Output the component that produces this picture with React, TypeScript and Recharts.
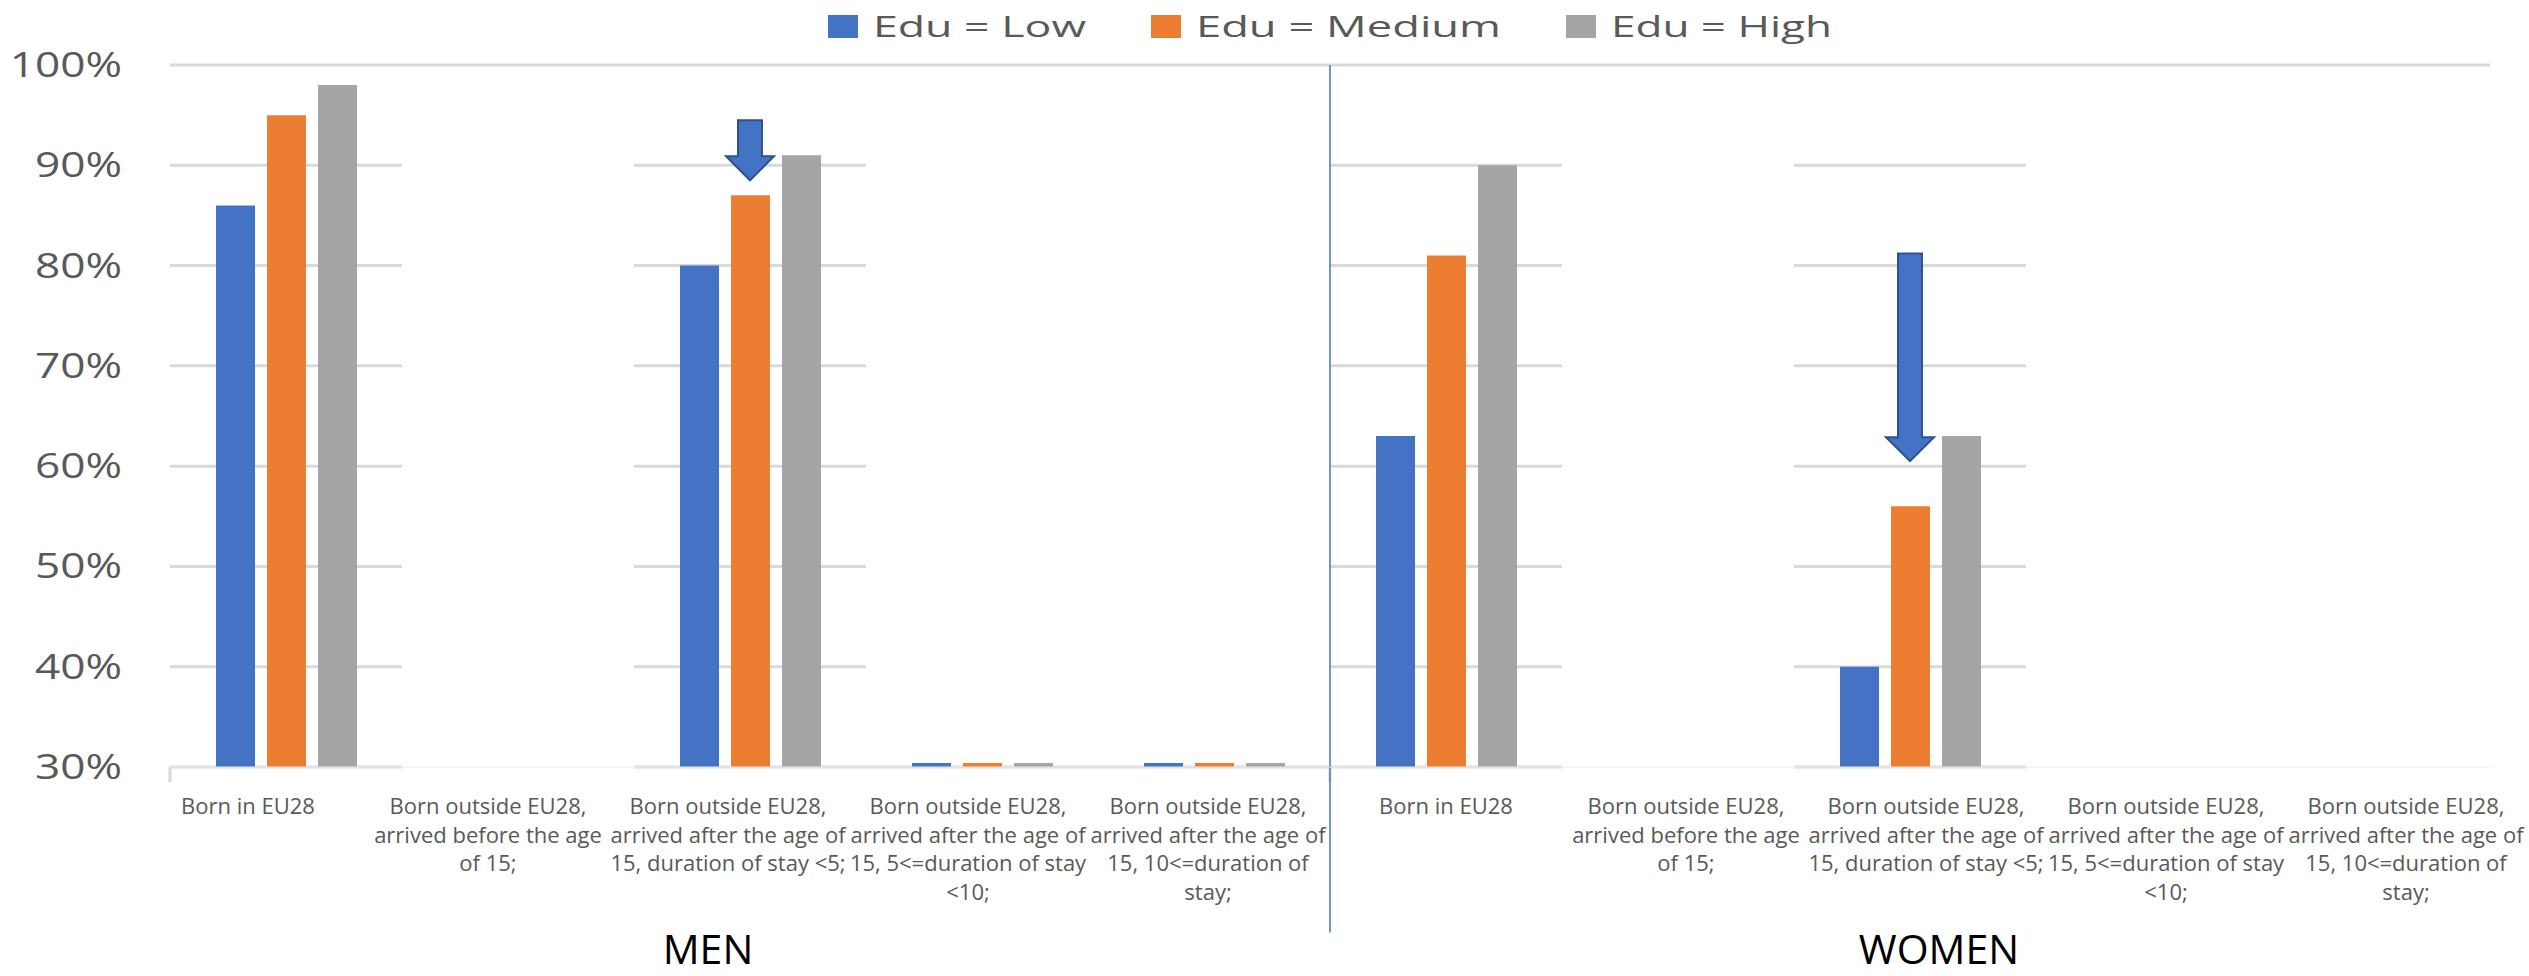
import { BarChart, Bar, XAxis, YAxis, CartesianGrid, Legend, ReferenceArea, ReferenceLine } from "recharts";

// categories: 5 for men, then the same 5 for women
const categoryKeys = ["m1", "m2", "m3", "m4", "m5", "w1", "w2", "w3", "w4", "w5"];
const categoryLines: string[][] = [
  ["Born in EU28"],
  ["Born outside EU28,", "arrived before the age", "of 15;"],
  ["Born outside EU28,", "arrived after the age of", "15, duration of stay <5;"],
  ["Born outside EU28,", "arrived after the age of", "15, 5<=duration of stay", "<10;"],
  ["Born outside EU28,", "arrived after the age of", "15, 10<=duration of", "stay;"],
  ["Born in EU28"],
  ["Born outside EU28,", "arrived before the age", "of 15;"],
  ["Born outside EU28,", "arrived after the age of", "15, duration of stay <5;"],
  ["Born outside EU28,", "arrived after the age of", "15, 5<=duration of stay", "<10;"],
  ["Born outside EU28,", "arrived after the age of", "15, 10<=duration of", "stay;"],
];

const eduLow = [86, null, 80, 30.4, 30.4, 63, null, 40, null, null];
const eduMedium = [95, null, 87, 30.4, 30.4, 81, null, 56, null, null];
const eduHigh = [98, null, 91, 30.4, 30.4, 90, null, 63, null, null];

const yTicks = [30, 40, 50, 60, 70, 80, 90, 100];
const groupTitles = ["MEN", "WOMEN"];
const seriesNames = ["Edu = Low", "Edu = Medium", "Edu = High"];
const seriesColors = ["#4472C4", "#ED7D31", "#A5A5A5"];

const data = categoryKeys.map((key, i) => ({
  key,
  low: eduLow[i],
  medium: eduMedium[i],
  high: eduHigh[i],
}));

const FONT = "'Open Sans', 'DejaVu Sans', sans-serif";
const LEGEND_TEXT_WIDTHS = [213, 305, 221];

function CategoryTick(props: any) {
  const { x, y, payload } = props;
  const i = payload.index;
  const lines = categoryLines[i] ?? [];
  // labels in the source are spread a little wider than the bars
  const nudge = (i % 5) * 8 - (i < 5 ? 38 : 0);
  return (
    <g transform={`translate(${x + nudge},${y})`}>
      <text textAnchor="middle" fontFamily={FONT} fontSize={22} fill="#595959">
        {lines.map((l, k) => (
          <tspan key={k} x={0} y={47 + k * 28.5}>
            {l}
          </tspan>
        ))}
      </text>
    </g>
  );
}

function PercentTick(props: any) {
  const { x, y, payload } = props;
  return (
    <text
      x={0}
      y={12}
      transform={`translate(${x},${y}) scale(1.3,1)`}
      textAnchor="end"
      fontFamily={FONT}
      fontSize={34}
      fill="#595959"
    >
      {payload.value}%
    </text>
  );
}

function EduLegend() {
  const sq = 30;
  const gapIn = 15;
  const gapOut = 65;
  const total = seriesNames.reduce(
    (s, _, i) => s + sq + gapIn + LEGEND_TEXT_WIDTHS[i] + (i > 0 ? gapOut : 0),
    0
  );
  let cursor = 1330 - total / 2;
  return (
    <svg width={2529} height={50}>
      {seriesNames.map((name, i) => {
        const x0 = cursor;
        cursor += sq + gapIn + LEGEND_TEXT_WIDTHS[i] + gapOut;
        return (
          <g key={name}>
            <rect x={x0} y={15} width={sq} height={23} fill={seriesColors[i]} />
            <text
              x={x0 + sq + gapIn}
              y={37}
              fontFamily={FONT}
              fontSize={30}
              fill="#595959"
              textLength={LEGEND_TEXT_WIDTHS[i]}
              lengthAdjust="spacingAndGlyphs"
            >
              {name}
            </text>
          </g>
        );
      })}
    </svg>
  );
}

function DownArrow(props: any) {
  const { x1, y1, y2 } = props;
  const shaft = 12;
  const head = 24;
  const headLen = 24;
  const d = `M${x1 - shaft},${y1} L${x1 + shaft},${y1} L${x1 + shaft},${y2 - headLen} L${x1 + head},${
    y2 - headLen
  } L${x1},${y2} L${x1 - head},${y2 - headLen} L${x1 - shaft},${y2 - headLen} Z`;
  return <path d={d} fill="#4472C4" stroke="#2F528F" strokeWidth={2} />;
}

export default function App() {
  return (
    <div style={{ position: "absolute", left: 0, top: 0, width: 2529, height: 976, background: "#fff", overflow: "hidden" }}>
      <BarChart
        width={2529}
        height={976}
        data={data}
        margin={{ top: 65, right: 39, bottom: 0, left: 0 }}
        barGap={12}
        barSize={39}
      >
        <CartesianGrid vertical={false} stroke="#d9d9d9" strokeWidth={3} />
        <XAxis
          dataKey="key"
          height={209}
          interval={0}
          tickSize={0}
          tickLine={false}
          tickMargin={0}
          axisLine={{ stroke: "#ececec" }}
          tick={<CategoryTick />}
        />
        <YAxis
          width={170}
          domain={[30, 100]}
          ticks={yTicks}
          allowDataOverflow
          axisLine={false}
          tickLine={false}
          tickSize={0}
          tickMargin={48}
          tick={<PercentTick />}
        />
        <Legend
          verticalAlign="middle"
          align="center"
          layout="horizontal"
          wrapperStyle={{ top: 0, left: 0, width: 2529, height: 50 }}
          content={<EduLegend />}
        />
        {/* gridlines are broken in the source where a panel is empty */}
        <ReferenceArea x1="m2" x2="m2" y1={29.7} y2={99.6} fill="#ffffff" fillOpacity={1} stroke="none" ifOverflow="visible" />
        <ReferenceArea x1="m4" x2="m5" y1={30.6} y2={99.6} fill="#ffffff" fillOpacity={1} stroke="none" ifOverflow="visible" />
        <ReferenceArea x1="w2" x2="w2" y1={29.7} y2={99.6} fill="#ffffff" fillOpacity={1} stroke="none" ifOverflow="visible" />
        <ReferenceArea x1="w4" x2="w5" y1={29.7} y2={99.6} fill="#ffffff" fillOpacity={1} stroke="none" ifOverflow="visible" />
        <Bar dataKey="low" name={seriesNames[0]} fill={seriesColors[0]} isAnimationActive={false} />
        <Bar dataKey="medium" name={seriesNames[1]} fill={seriesColors[1]} isAnimationActive={false} />
        <Bar dataKey="high" name={seriesNames[2]} fill={seriesColors[2]} isAnimationActive={false} />
        {/* small axis ticks at the start of each panel */}
        <ReferenceLine
          segment={[{ x: "m1", y: 30 }, { x: "m1", y: 28.5 }]}
          position="start"
          stroke="#d9d9d9"
          strokeWidth={3}
          ifOverflow="visible"
        />
        <ReferenceLine
          segment={[{ x: "w1", y: 30 }, { x: "w1", y: 28.5 }]}
          position="start"
          stroke="#d9d9d9"
          strokeWidth={3}
          ifOverflow="visible"
        />
        <ReferenceLine
          segment={[{ x: "w1", y: 100 }, { x: "w1", y: 13.5 }]}
          position="start"
          stroke="#4472C4"
          strokeWidth={1.5}
          ifOverflow="visible"
        />
        <ReferenceLine
          segment={[{ x: "m3", y: 94.5 }, { x: "m3", y: 88.5 }]}
          ifOverflow="visible"
          shape={<DownArrow />}
        />
        <ReferenceLine
          segment={[{ x: "w3", y: 81.2 }, { x: "w3", y: 60.5 }]}
          ifOverflow="visible"
          shape={<DownArrow />}
        />
      </BarChart>
      <svg width={2529} height={976} style={{ position: "absolute", left: 0, top: 0, pointerEvents: "none" }}>
        <text x={708} y={964} textAnchor="middle" fontFamily={FONT} fontSize={41} fill="#000">
          {groupTitles[0]}
        </text>
        <text x={1939} y={964} textAnchor="middle" fontFamily={FONT} fontSize={41} fill="#000">
          {groupTitles[1]}
        </text>
      </svg>
    </div>
  );
}
